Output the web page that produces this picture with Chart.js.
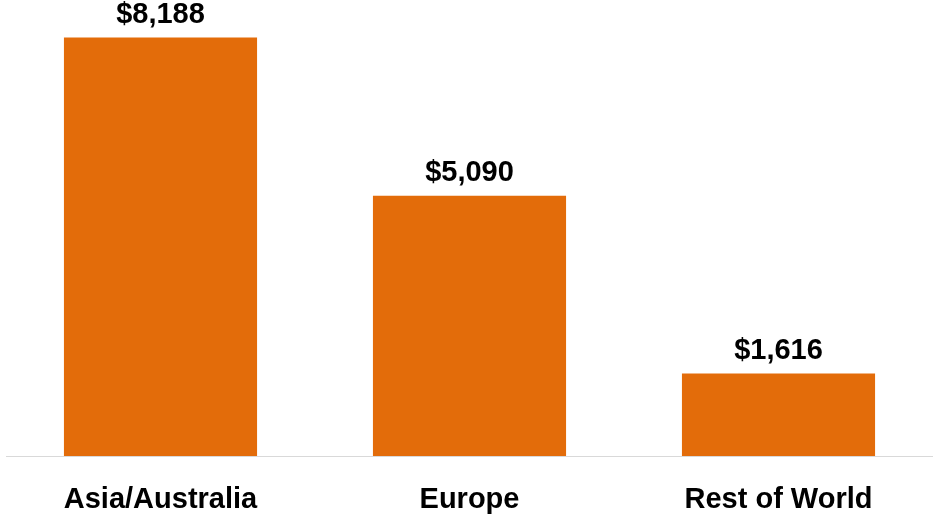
<!DOCTYPE html>
<html>
<head>
<meta charset="utf-8">
<script src="https://cdn.jsdelivr.net/npm/chart.js@4"></script>
<style>
  html, body { margin: 0; padding: 0; background: #ffffff; }
  #wrap { width: 933px; height: 515px; }
</style>
</head>
<body>
<div id="wrap"><canvas id="chart" width="933" height="515"></canvas></div>
<script>
// --- Data ---
const categories = ['Asia/Australia', 'Europe', 'Rest of World'];
const revenue = [8188, 5090, 1616];

const BAR_COLOR = '#E36C0A';
const FONT = "'Liberation Sans', Arial, sans-serif";

// draws "$x,xxx" above each bar
const valueLabels = {
    id: 'valueLabels',
    afterDatasetsDraw(chart) {
        const ctx = chart.ctx;
        const meta = chart.getDatasetMeta(0);
        ctx.save();
        ctx.font = `bold 29px ${FONT}`;
        ctx.fillStyle = '#000000';
        ctx.textAlign = 'center';
        ctx.textBaseline = 'bottom';
        meta.data.forEach((bar, i) => {
            const txt = '$' + revenue[i].toLocaleString('en-US');
            ctx.fillText(txt, bar.x, bar.y - 8);
        });
        ctx.restore();
    }
};

new Chart(document.getElementById('chart'), {
    type: 'bar',
    data: {
        labels: categories,
        datasets: [{
            data: revenue,
            backgroundColor: BAR_COLOR,
            categoryPercentage: 0.625,
            barPercentage: 1.0
        }]
    },
    options: {
        responsive: false,
        animation: false,
        layout: { padding: { left: 6, right: 0, top: 0, bottom: 0 } },
        plugins: {
            legend: { display: false },
            tooltip: { enabled: false }
        },
        scales: {
            x: {
                grid: { display: false },
                border: { display: true, color: '#d9d9d9', width: 1 },
                afterFit: (scale) => { scale.height = 59; },
                ticks: {
                    color: '#000000',
                    padding: 19,
                    font: { family: FONT, size: 29, weight: 'bold' }
                }
            },
            y: {
                display: false,
                min: 0,
                max: 8920
            }
        }
    },
    plugins: [valueLabels]
});
</script>
</body>
</html>
